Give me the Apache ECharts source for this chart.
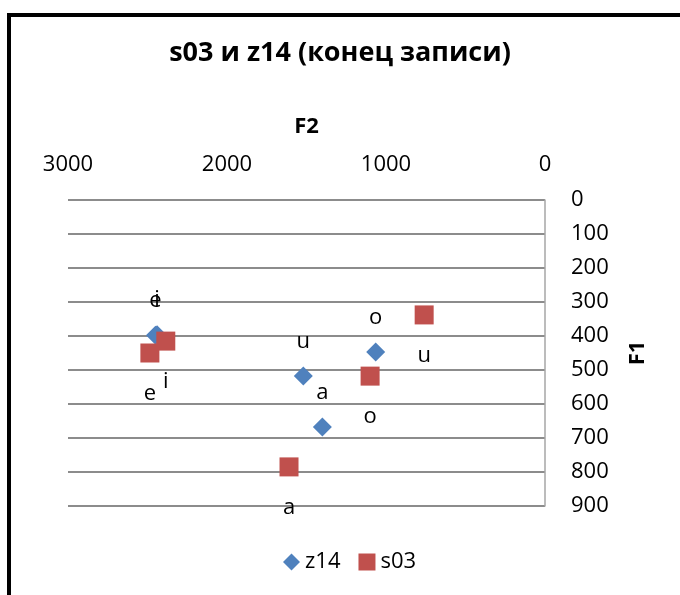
<!DOCTYPE html>
<html>
<head>
<meta charset="utf-8">
<script src="https://cdn.jsdelivr.net/npm/echarts@6/dist/echarts.min.js"></script>
<style>
  html, body { margin: 0; padding: 0; background: #fff; }
  #chart { width: 680px; height: 595px; }
</style>
</head>
<body>
<div id="chart"></div>
<script>
// z14 vowels: F2 (x), F1 (y)
const z14Vowels = ['e', 'i', 'u', 'a', 'o'];
const z14F2 = [2450, 2440, 1520, 1400, 1065];
const z14F1 = [398, 396, 518, 668, 447];

// s03 vowels
const s03Vowels = ['e', 'i', 'a', 'o', 'u'];
const s03F2 = [2485, 2385, 1610, 1100, 760];
const s03F1 = [450, 415, 785, 518, 338];

const f1Ticks = [0, 100, 200, 300, 400, 500, 600, 700, 800, 900];

const labelFont = '"Open Sans", sans-serif';

const toPoints = (xs, ys, names) => xs.map((x, i) => ({ value: [x, ys[i]], name: names[i] }));

const chart = echarts.init(document.getElementById('chart'));

const options = {
  animation: false,
  backgroundColor: '#fff',
  title: {
    text: 's03 и z14 (конец записи)',
    left: 'center',
    top: 35,
    textStyle: {
      fontFamily: labelFont,
      fontSize: 27,
      fontWeight: 'bold',
      color: '#000',
    },
  },
  graphic: [
    {
      type: 'rect',
      shape: { x: 9, y: 15, width: 700, height: 620 },
      style: { fill: 'none', stroke: '#000', lineWidth: 4 },
    },
  ],
  legend: {
    bottom: 17,
    left: 278,
    itemWidth: 17,
    itemHeight: 17,
    itemGap: 18,
    textStyle: { fontFamily: labelFont, fontSize: 22, color: '#000' },
    data: [
      { name: 'z14', icon: 'diamond' },
      { name: 's03', icon: 'rect' },
    ],
  },
  grid: {
    left: 68,
    right: 135,
    top: 200,
    bottom: 89,
  },
  xAxis: {
    type: 'value',
    position: 'top',
    inverse: true,
    min: 0,
    max: 3000,
    interval: 1000,
    name: 'F2',
    nameLocation: 'middle',
    nameGap: 62,
    nameTextStyle: { fontFamily: labelFont, fontSize: 22, fontWeight: 'bold', color: '#000' },
    axisLine: { show: false },
    axisTick: { show: false },
    splitLine: { show: false },
    axisLabel: {
      fontFamily: labelFont,
      fontSize: 22,
      color: '#000',
      margin: 24,
      formatter: (v) => String(v),
    },
  },
  yAxis: {
    type: 'value',
    position: 'right',
    inverse: true,
    min: 0,
    max: 900,
    interval: 100,
    name: 'F1',
    nameLocation: 'middle',
    nameGap: 82,
    nameRotate: 90,
    nameTextStyle: { fontFamily: labelFont, fontSize: 22, fontWeight: 'bold', color: '#000' },
    axisLine: { show: true, lineStyle: { color: '#a6a6a6', width: 1.5 } },
    axisTick: { show: false },
    splitLine: { show: true, lineStyle: { color: '#8c8c8c', width: 2 } },
    axisLabel: {
      fontFamily: labelFont,
      fontSize: 22,
      color: '#000',
      margin: 26,
      formatter: (v) => (f1Ticks.includes(v) ? String(v) : ''),
    },
  },
  series: [
    {
      name: 'z14',
      type: 'scatter',
      symbol: 'diamond',
      symbolSize: 19,
      itemStyle: { color: '#4F81BD', opacity: 1 },
      data: toPoints(z14F2, z14F1, z14Vowels),
      label: {
        show: true,
        position: 'top',
        distance: 14,
        formatter: '{b}',
        fontFamily: labelFont,
        fontSize: 22,
        color: '#000',
      },
    },
    {
      name: 's03',
      type: 'scatter',
      symbol: 'rect',
      symbolSize: 19,
      itemStyle: { color: '#C0504D', opacity: 1 },
      data: toPoints(s03F2, s03F1, s03Vowels),
      label: {
        show: true,
        position: 'bottom',
        distance: 20,
        formatter: '{b}',
        fontFamily: labelFont,
        fontSize: 22,
        color: '#000',
      },
    },
  ],
};

chart.setOption(options);
</script>
</body>
</html>
